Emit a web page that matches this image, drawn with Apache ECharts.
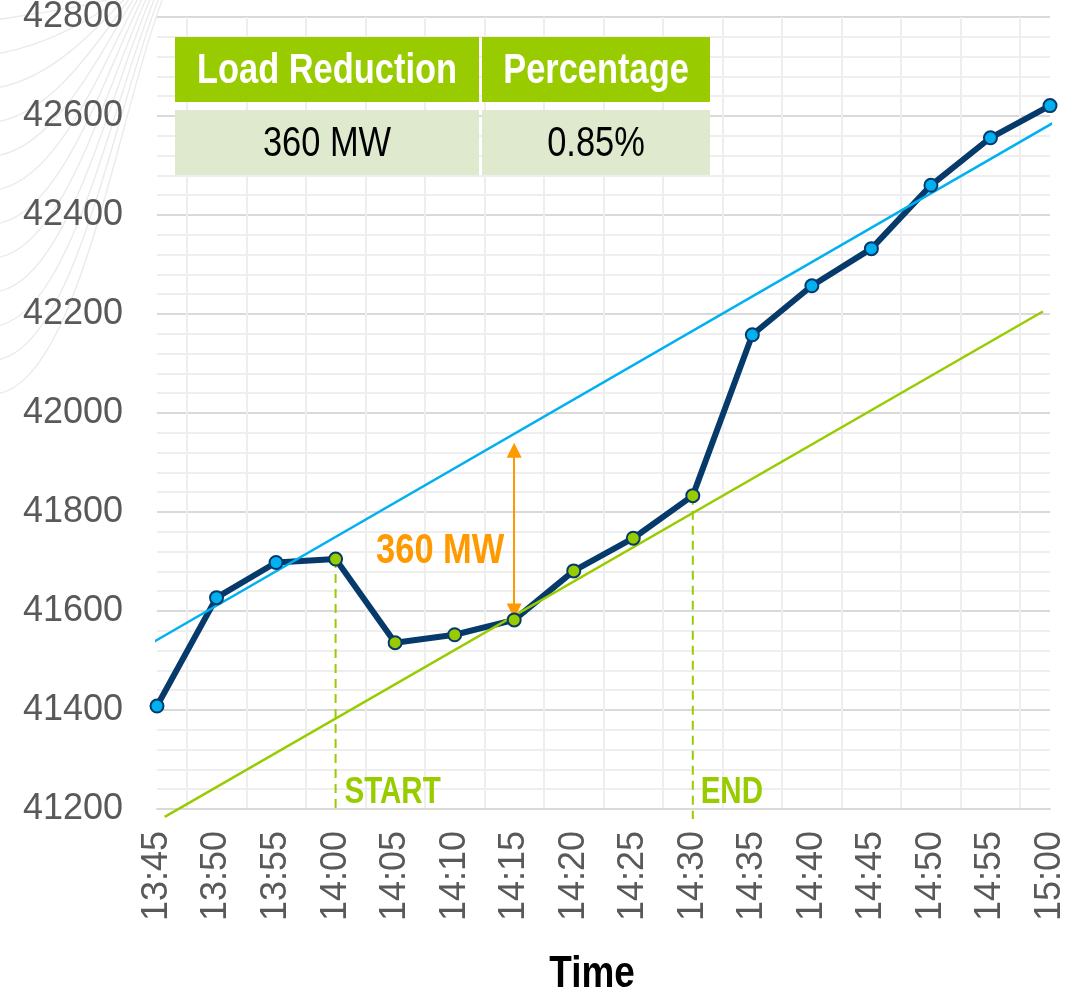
<!DOCTYPE html>
<html>
<head>
<meta charset="utf-8">
<title>Load Reduction</title>
<script src="https://cdn.jsdelivr.net/npm/echarts@6/dist/echarts.min.js"></script>
<style>
  html, body { margin: 0; padding: 0; background: #fff; }
  #chart { width: 1079px; height: 996px; }
</style>
</head>
<body>
<div id="chart"></div>
<script>
const times = ['13:45', '13:50', '13:55', '14:00', '14:05', '14:10', '14:15', '14:20',
  '14:25', '14:30', '14:35', '14:40', '14:45', '14:50', '14:55', '15:00']
const load = [41408, 41627, 41698, 41705, 41536, 41552, 41582, 41681,
  41747, 41833, 42158, 42257, 42332, 42460, 42556, 42621]
const eventWindow = ['14:00', '14:30']
const eventLabels = ['START', 'END']
const eventFloor = [41200, 41180]
// trend lines, x in category steps from 13:45
const baselineTrend = [[-0.05, 41538], [15.05, 42586]]
const reducedTrend = [[0.13, 41184], [14.88, 42205]]
const reductionAt = '14:15'
const reductionRange = [41600, 41925]
const reductionLabel = '360 MW'
const reductionLabelAt = 41720
const yRange = [41200, 42800]
const yStep = 200
const tableHeader = ['Load Reduction', 'Percentage']
const tableRow = ['360 MW', '0.85%']

const NAVY = '#053a6b'
const BLUE = '#00b0f0'
const GREEN = '#99cc00'
const ORANGE = '#ff9900'
const SANS = "'Liberation Sans', Arial, sans-serif"
const SQUEEZE = 0.82 // stand-in for a narrow face

const chart = echarts.init(document.getElementById('chart'))

const startIdx = times.indexOf(eventWindow[0])
const endIdx = times.indexOf(eventWindow[1])
const redIdx = times.indexOf(reductionAt)

// helper categories at half steps, used only for the vertical grid lines
const halfSteps = []
times.forEach((t, i) => {
  halfSteps.push(t)
  if (i < times.length - 1) halfSteps.push(t + '+')
})

const narrowText = (id, text, x, y, opts) => ({
  type: 'text',
  id: id,
  z: 101,
  x: x,
  y: y,
  scaleX: SQUEEZE,
  silent: true,
  style: Object.assign({
    text: text, x: 0, y: 0,
    textAlign: 'center', textVerticalAlign: 'middle',
    fontFamily: SANS, fontSize: 42
  }, opts)
})

const swirls = []
for (let i = 0; i < 12; i++) {
  const y0 = 20 + i * 34
  swirls.push({
    type: 'bezierCurve',
    silent: true,
    z: -10,
    shape: {
      x1: -5, y1: y0,
      cpx1: 45 + i * 3, cpy1: y0 - 8,
      cpx2: 95 + i * 2, cpy2: y0 * 0.3,
      x2: 120 + i * 4, y2: -5
    },
    style: { stroke: '#ebebeb', lineWidth: 1.4, fill: null }
  })
}

const table = []
const cols = [[175, 479], [482, 710]]
cols.forEach((c, i) => {
  table.push({
    type: 'rect', z: 100, silent: true,
    shape: { x: c[0], y: 37, width: c[1] - c[0], height: 65 },
    style: { fill: GREEN }
  })
  table.push({
    type: 'rect', z: 100, silent: true,
    shape: { x: c[0], y: 110, width: c[1] - c[0], height: 65 },
    style: { fill: '#dee9cd' }
  })
  table.push(narrowText('th' + i, tableHeader[i], (c[0] + c[1]) / 2, 71,
    { fill: '#fff', fontWeight: 'bold' }))
  table.push(narrowText('td' + i, tableRow[i], (c[0] + c[1]) / 2, 144,
    { fill: '#000' }))
})

const eventLine = (idx, floor) => ({
  type: 'line',
  xAxisIndex: 1,
  symbol: 'none',
  clip: false,
  z: 3,
  lineStyle: { color: GREEN, width: 2, type: [9, 6] },
  data: [[idx, load[idx]], [idx, floor]]
})

const trendLine = (data, color) => ({
  type: 'line',
  xAxisIndex: 1,
  symbol: 'none',
  clip: false,
  z: 3,
  lineStyle: { color: color, width: 2.5 },
  data: data
})

chart.setOption({
  animation: false,
  graphic: swirls.concat(table),
  grid: { left: 157, right: 29, top: 17, bottom: 187, outerBoundsMode: 'none', containLabel: false },
  xAxis: [
    {
      type: 'category',
      data: times,
      boundaryGap: false,
      axisLine: { lineStyle: { color: '#d9d9d9', width: 2 } },
      axisTick: { show: false },
      axisLabel: {
        rotate: 90,
        margin: 22,
        color: '#595959',
        fontSize: 36,
        fontFamily: SANS
      },
      splitLine: { show: false }
    },
    {
      type: 'value',
      min: 0,
      max: times.length - 1,
      show: false
    },
    {
      type: 'category',
      data: halfSteps,
      boundaryGap: false,
      axisLine: { show: false },
      axisTick: { show: false },
      axisLabel: { show: false },
      splitLine: {
        show: true,
        interval: (i) => i % 2 === 1,
        lineStyle: { color: '#eeeeee', width: 2 }
      }
    }
  ],
  yAxis: {
    type: 'value',
    min: yRange[0],
    max: yRange[1],
    interval: yStep,
    axisLine: { show: false },
    axisTick: { show: false },
    axisLabel: {
      margin: 34,
      color: '#595959',
      fontSize: 36,
      fontFamily: SANS,
      formatter: (v) => String(v)
    },
    splitLine: { lineStyle: { color: '#d9d9d9', width: 2 } },
    minorTick: { show: false, splitNumber: 5 },
    minorSplitLine: { show: true, lineStyle: { color: '#eeeeee', width: 2 } }
  },
  series: [
    {
      type: 'line',
      xAxisIndex: 0,
      z: 2,
      symbol: 'none',
      lineStyle: { color: NAVY, width: 6 },
      data: load
    },
    trendLine(baselineTrend, BLUE),
    trendLine(reducedTrend, GREEN),
    eventLine(startIdx, eventFloor[0]),
    eventLine(endIdx, eventFloor[1]),
    {
      type: 'line',
      xAxisIndex: 1,
      data: [],
      z: 4,
      markLine: {
        silent: true,
        symbol: ['triangle', 'triangle'],
        symbolSize: [15, 15],
        label: { show: false },
        lineStyle: { color: ORANGE, width: 2, type: 'solid' },
        data: [[{ coord: [redIdx, reductionRange[0]] }, { coord: [redIdx, reductionRange[1]] }]]
      }
    },
    {
      type: 'scatter',
      xAxisIndex: 0,
      z: 6,
      symbol: 'circle',
      symbolSize: 13,
      itemStyle: { borderColor: NAVY, borderWidth: 2, opacity: 1 },
      data: load.map((v, i) => ({
        value: v,
        itemStyle: { color: i >= startIdx && i <= endIdx ? GREEN : BLUE }
      }))
    }
  ]
})

// annotation texts, placed through the axes' own scales
const toPx = (x, y) => chart.convertToPixel({ xAxisIndex: 0, yAxisIndex: 0 }, [x, y])
const notes = []
;[startIdx, endIdx].forEach((idx, i) => {
  const p = toPx(idx, yRange[0])
  const w = i === 0 ? 98 : 62
  notes.push(narrowText('ev' + i, eventLabels[i], p[0] + 8 + w / 2, p[1] - 16,
    { fill: GREEN, fontWeight: 'bold', fontSize: 36 }))
})
const rp = toPx(redIdx, reductionLabelAt)
notes.push(narrowText('red', reductionLabel, rp[0] - 10 - 64, rp[1],
  { fill: ORANGE, fontWeight: 'bold', fontSize: 42 }))
notes.push(narrowText('xname', 'Time', 592, 975,
  { fill: '#000', fontWeight: 'bold', fontSize: 45 }))
chart.setOption({ graphic: notes })
</script>
</body>
</html>
